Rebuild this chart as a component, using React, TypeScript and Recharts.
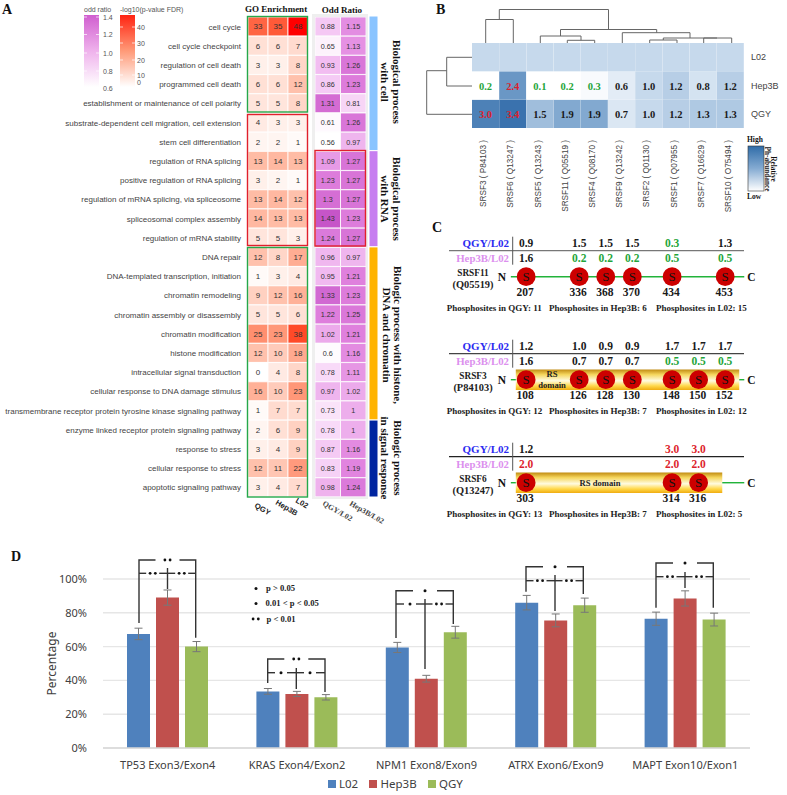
import {
  Bar,
  BarChart,
  CartesianGrid,
  Cell,
  ErrorBar,
  LabelList,
  Legend,
  ReferenceArea,
  ReferenceLine,
  Scatter,
  ScatterChart,
  XAxis,
  YAxis,
} from "recharts";

const SANS = "Liberation Sans, Arial, sans-serif";
const SERIF = "Liberation Serif, Times New Roman, serif";
const NOTO = "Noto Sans, sans-serif";

// panel A
const goTerms = [
  "cell cycle",
  "cell cycle checkpoint",
  "regulation of cell death",
  "programmed cell death",
  "establishment or maintenance of cell polarity",
  "substrate-dependent cell migration, cell extension",
  "stem cell differentiation",
  "regulation of RNA splicing",
  "positive regulation of RNA splicing",
  "regulation of mRNA splicing, via spliceosome",
  "spliceosomal complex assembly",
  "regulation of mRNA stability",
  "DNA repair",
  "DNA-templated transcription, initiation",
  "chromatin remodeling",
  "chromatin assembly or disassembly",
  "chromatin modification",
  "histone modification",
  "intracellular signal transduction",
  "cellular response to DNA damage stimulus",
  "transmembrane receptor protein tyrosine kinase signaling pathway",
  "enzyme linked receptor protein signaling pathway",
  "response to stress",
  "cellular response to stress",
  "apoptotic signaling pathway",
];
const goQgy = [33, 6, 3, 6, 5, 4, 2, 13, 3, 13, 14, 5, 12, 1, 9, 5, 25, 12, 0, 16, 1, 2, 3, 12, 3];
const goHep = [35, 6, 3, 6, 5, 3, 2, 14, 2, 14, 13, 5, 8, 3, 12, 5, 23, 10, 4, 10, 7, 6, 4, 11, 4];
const goL02 = [48, 7, 8, 12, 8, 3, 1, 13, 1, 12, 13, 3, 17, 4, 16, 6, 38, 18, 8, 23, 7, 9, 9, 22, 7];
const oddQgy = [0.88, 0.65, 0.93, 0.86, 1.31, 0.61, 0.56, 1.09, 1.23, 1.3, 1.43, 1.24, 0.96, 0.95, 1.33, 1.22, 1.02, 0.6, 0.78, 0.97, 0.73, 0.78, 0.87, 0.83, 0.98];
const oddHep = [1.15, 1.13, 1.26, 1.23, 0.81, 1.26, 0.97, 1.27, 1.27, 1.27, 1.23, 1.27, 0.97, 1.21, 1.23, 1.25, 1.21, 1.16, 1.11, 1.02, 1, 1, 1.16, 1.19, 1.24];
const groupSpans = { cell: 7, rna: 5, histone: 9, signal: 4 };

// panel B
const proteins = [
  "SRSF3 ( P84103 )",
  "SRSF6 ( Q13247 )",
  "SRSF5 ( Q13243 )",
  "SRSF11 ( Q05519 )",
  "SRSF4 ( Q08170 )",
  "SRSF9 ( Q13242 )",
  "SRSF2 ( Q01130 )",
  "SRSF1 ( Q07955 )",
  "SRSF7 ( Q16629 )",
  "SRSF10 ( O75494 )",
];
const abundanceHep = [0.2, 2.4, 0.1, 0.2, 0.3, 0.6, 1.0, 1.2, 0.8, 1.2];
const abundanceQgy = [3.0, 3.4, 1.5, 1.9, 1.9, 0.7, 1.0, 1.2, 1.3, 1.3];
const abundanceL02 = [1, 1, 1, 1, 1, 1, 1, 1, 1, 1];
const rowNames = ["QGY", "Hep3B", "L02"];

// panel C, slot is the place on the schematic, not the residue
const srsf11Sites = [
  { slot: 0, row: 0, site: 207, qgy: 0.9, hep: 1.6 },
  { slot: 2, row: 0, site: 336, qgy: 1.5, hep: 0.2 },
  { slot: 3, row: 0, site: 368, qgy: 1.5, hep: 0.2 },
  { slot: 4, row: 0, site: 370, qgy: 1.5, hep: 0.2 },
  { slot: 5.5, row: 0, site: 434, qgy: 0.3, hep: 0.5 },
  { slot: 7.5, row: 0, site: 453, qgy: 1.3, hep: 0.5 },
];
const srsf3Sites = [
  { slot: 0, row: 1, site: 108, qgy: 1.2, hep: 1.6 },
  { slot: 2, row: 1, site: 126, qgy: 1.0, hep: 0.7 },
  { slot: 3, row: 1, site: 128, qgy: 0.9, hep: 0.7 },
  { slot: 4, row: 1, site: 130, qgy: 0.9, hep: 0.7 },
  { slot: 5.5, row: 1, site: 148, qgy: 1.7, hep: 0.5 },
  { slot: 6.5, row: 1, site: 150, qgy: 1.7, hep: 0.5 },
  { slot: 7.5, row: 1, site: 152, qgy: 1.7, hep: 0.5 },
];
const srsf6Sites = [
  { slot: 0, row: 2, site: 303, qgy: 1.2, hep: 2.0 },
  { slot: 5.5, row: 2, site: 314, qgy: 3.0, hep: 2.0 },
  { slot: 6.5, row: 2, site: 316, qgy: 3.0, hep: 2.0 },
];
const backbone = [
  { row: 0, from: -0.577, to: 8.22 },
  { row: 1, from: -0.577, to: -0.39 },
  { row: 1, from: 8.03, to: 8.22 },
  { row: 2, from: -0.577, to: -0.39 },
  { row: 2, from: 7.39, to: 8.22 },
];
const phosphoText = [
  ["Phosphosites in QGY: 11", "Phosphosites in Hep3B: 6", "Phosphosites in L02: 15"],
  ["Phosphosites in QGY: 12", "Phosphosites in Hep3B: 7", "Phosphosites in L02: 12"],
  ["Phosphosites in QGY: 13", "Phosphosites in Hep3B: 7", "Phosphosites in L02: 5"],
];
const proteinNames = [
  ["SRSF11", "(Q05519)"],
  ["SRSF3", "(P84103)"],
  ["SRSF6", "(Q13247)"],
];

// panel D
const exons = [
  "TP53 Exon3/Exon4",
  "KRAS Exon4/Exon2",
  "NPM1 Exon8/Exon9",
  "ATRX Exon6/Exon9",
  "MAPT Exon10/Exon1",
];
const pctL02 = [67.5, 33.5, 59.5, 86, 76.5];
const pctHep = [89, 32, 41, 75.5, 88.5];
const pctQgy = [60, 30, 68.5, 84.5, 76];
const errL02 = [3.4, 1.7, 3, 4.3, 3.9];
const errHep = [4.5, 1.5, 2, 3.8, 4.5];
const errQgy = [3, 1.6, 3.5, 4.2, 3.8];
const brackets = [
  { lx: 139, rx: 195.7, cx: 167.5, top: 560, mid: 573.3, lEnd: 623, rEnd: 637.7, cFrom: 568, cTo: 589, lm: 152.7, rm: 181.7, marks: [2, 2, 2] },
  { lx: 267.7, rx: 325, cx: 296.3, top: 659, mid: 672.7, lEnd: 683, rEnd: 692, cFrom: 668, cTo: 689, lm: 281, rm: 310, marks: [2, 1, 1] },
  { lx: 396, rx: 453.3, cx: 425, top: 590.7, mid: 604, lEnd: 638, rEnd: 624, cFrom: 599, cTo: 669, lm: 410, rm: 439, marks: [1, 1, 2] },
  { lx: 526, rx: 583.3, cx: 555, top: 566.7, mid: 580.7, lEnd: 591.7, rEnd: 594, cFrom: 575, cTo: 611, lm: 540, rm: 569, marks: [1, 2, 2] },
  { lx: 656, rx: 713.3, cx: 685, top: 563, mid: 576.7, lEnd: 607.7, rEnd: 607.7, cFrom: 572, cTo: 588, lm: 670, rm: 699, marks: [1, 2, 2] },
];

const goRows = goTerms.map((term, i) => ({
  term,
  a: 1,
  b: 1,
  c: 1,
  qgy: goQgy[i],
  hep: goHep[i],
  l02: goL02[i],
  oddQ: oddQgy[i],
  oddH: oddHep[i],
}));
const abundanceRows = proteins.map((name, i) => ({
  name,
  q: 1,
  h: 1,
  l: 1,
  qgy: abundanceQgy[i],
  hep: abundanceHep[i],
  l02: abundanceL02[i],
}));
const exonRows = exons.map((name, i) => ({
  name,
  L02: pctL02[i],
  Hep3B: pctHep[i],
  QGY: pctQgy[i],
  l02Err: errL02[i],
  hepErr: errHep[i],
  qgyErr: errQgy[i],
}));
const legendItems = [
  { name: "L02", color: "#4f81bd" },
  { name: "Hep3B", color: "#c0504d" },
  { name: "QGY", color: "#9bbb59" },
];

function mix(stops: [number, number[]][], v: number) {
  let i = 0;
  while (i < stops.length - 2 && v > stops[i + 1][0]) i++;
  const [a, ca] = stops[i];
  const [b, cb] = stops[i + 1];
  const t = Math.max(0, Math.min(1, (v - a) / (b - a)));
  const c = ca.map((x, k) => Math.round(x + (cb[k] - x) * t));
  return `rgb(${c[0]},${c[1]},${c[2]})`;
}
const goColor = (v: number) =>
  mix(
    [
      [0, [255, 255, 255]],
      [13, [255, 188, 165]],
      [25, [255, 143, 111]],
      [38, [255, 74, 40]],
      [48, [255, 0, 0]],
    ],
    v,
  );
const oddColor = (v: number) =>
  mix(
    [
      [0.58, [255, 255, 255]],
      [0.9, [244, 196, 243]],
      [1.2, [224, 130, 222]],
      [1.43, [198, 85, 200]],
    ],
    v,
  );
const blueColor = (v: number) =>
  mix(
    [
      [0.2, [255, 255, 255]],
      [1.0, [198, 217, 236]],
      [1.9, [130, 169, 208]],
      [3.4, [58, 114, 174]],
    ],
    v,
  );
const ratioColor = (v: number) => (v >= 2 ? "#dd1f2d" : v <= 0.5 ? "#1fa53a" : "#1a1a1a");

const cellLabel =
  (size: number) =>
  ({ x, y, width, height, value }: any) => (
    <text x={x + width / 2} y={y + height / 2 + 2.9} textAnchor="middle" fontSize={size} fontFamily={SANS} fill="#333">
      {value}
    </text>
  );

const abundanceLabel = ({ x, y, width, height, value }: any) => (
  <text
    x={x + width / 2}
    y={y + height / 2 + 4}
    textAnchor="middle"
    fontSize={10.5}
    fontFamily={SERIF}
    fontWeight={600}
    fill={ratioColor(value)}
  >
    {value.toFixed(1)}
  </text>
);

const termTick = ({ y, payload }: any) => (
  <text x={241} y={y + 3} textAnchor="end" fontSize={8} fontFamily={SANS} fill="#444">
    {payload.value}
  </text>
);

// y is fixed so the labels end just under the heatmap, as in the figure
const proteinTick = ({ x, payload }: any) => (
  <text
    transform={`rotate(-90 ${x + 0.5} 97)`}
    x={x + 0.5}
    y={97}
    textAnchor="end"
    fontSize={8.2}
    fontFamily={SANS}
    fill="#444"
  >
    {payload.value}
  </text>
);

const SiteMark = ({ cx, cy, payload }: any) => (
  <g fontFamily={SERIF} textAnchor="middle">
    <text x={cx} y={cy - 29.5} fontSize={11.5} fontWeight={600} fill={ratioColor(payload.qgy)}>
      {payload.qgy.toFixed(1)}
    </text>
    <text x={cx} y={cy - 14.8} fontSize={11.5} fontWeight={600} fill={ratioColor(payload.hep)}>
      {payload.hep.toFixed(1)}
    </text>
    <circle cx={cx} cy={cy} r={9.4} fill="#cc0000" />
    <text x={cx} y={cy + 4.6} fontSize={13} fill="#111">
      S
    </text>
    <text x={cx - 1} y={cy + 19.3} fontSize={11.5} fontWeight={600} fill="#1a1a1a">
      {payload.site}
    </text>
  </g>
);

const ExonLegend = () => (
  <div style={{ display: "flex", alignItems: "center", fontFamily: NOTO, fontSize: 11.5, color: "#404040", lineHeight: "22px" }}>
    {legendItems.map((it) => (
      <span key={it.name} style={{ display: "flex", alignItems: "center", marginRight: 11 }}>
        <span style={{ width: 8, height: 8, background: it.color, marginRight: 3.3 }} />
        {it.name}
      </span>
    ))}
  </div>
);

function Txt({ x, y, s = 10, f = SERIF, w = 400, c = "#111", a = "start", r, children }: any) {
  return (
    <text
      x={x}
      y={y}
      fontSize={s}
      fontFamily={f}
      fontWeight={w}
      fill={c}
      textAnchor={a}
      transform={r ? `rotate(${r} ${x} ${y})` : undefined}
    >
      {children}
    </text>
  );
}

function Dots({ x, y, n }: { x: number; y: number; n: number }) {
  return (
    <g fill="#111">
      {n === 1 ? (
        <circle cx={x} cy={y} r={1.5} />
      ) : (
        <>
          <circle cx={x - 2.6} cy={y} r={1.4} />
          <circle cx={x + 2.6} cy={y} r={1.4} />
        </>
      )}
    </g>
  );
}

function Overlay() {
  const rows = [276.7, 379.7, 482.7];
  return (
    <svg width={787} height={795} style={{ position: "absolute", left: 0, top: 0, pointerEvents: "none" }}>
      <defs>
        <linearGradient id="oddBar" x1="0" y1="0" x2="0" y2="1">
          <stop offset="0" stopColor="#d05ecf" />
          <stop offset="0.5" stopColor="#efb2ec" />
          <stop offset="1" stopColor="#ffffff" />
        </linearGradient>
        <linearGradient id="redBar" x1="0" y1="0" x2="0" y2="1">
          <stop offset="0" stopColor="#ff2412" />
          <stop offset="0.5" stopColor="#ff9a78" />
          <stop offset="1" stopColor="#ffffff" />
        </linearGradient>
        <linearGradient id="blueBar" x1="0" y1="0" x2="0" y2="1">
          <stop offset="0" stopColor="#2f6ca8" />
          <stop offset="0.5" stopColor="#85abd2" />
          <stop offset="1" stopColor="#ffffff" />
        </linearGradient>
      </defs>

      {/* panel letters */}
      <Txt x={2} y={14} s={14} w={700}>A</Txt>
      <Txt x={436} y={14} s={14} w={700}>B</Txt>
      <Txt x={432} y={232} s={14} w={700}>C</Txt>
      <Txt x={11} y={561} s={14} w={700}>D</Txt>

      {/* A legends */}
      <Txt x={84} y={12} s={7} f={SANS} c="#555">odd ratio</Txt>
      <Txt x={120} y={12} s={7} f={SANS} c="#555">-log10(p-value FDR)</Txt>
      <rect x={84} y={15} width={15} height={72} fill="url(#oddBar)" />
      <rect x={120} y={15} width={15} height={72} fill="url(#redBar)" />
      {[17, 34.5, 53, 71].map((y) => (
        <g key={y} stroke="#fff" strokeWidth={0.7}>
          <line x1={84} x2={87} y1={y} y2={y} />
          <line x1={96} x2={99} y1={y} y2={y} />
        </g>
      ))}
      {[27, 43, 60, 75].map((y) => (
        <g key={y} stroke="#fff" strokeWidth={0.7}>
          <line x1={120} x2={123} y1={y} y2={y} />
          <line x1={132} x2={135} y1={y} y2={y} />
        </g>
      ))}
      {[
        ["1.4", 19.5],
        ["1.2", 37],
        ["1.0", 55.5],
        ["0.8", 73.5],
        ["0.6", 91],
      ].map(([t, y]) => (
        <Txt key={t} x={103} y={y} s={7} f={SANS} c="#555">{t}</Txt>
      ))}
      {[
        ["40", 29.5],
        ["30", 45.5],
        ["20", 62.5],
        ["10", 77.5],
        ["0", 85],
      ].map(([t, y]) => (
        <Txt key={t} x={137} y={y} s={7} f={SANS} c="#555">{t}</Txt>
      ))}

      <Txt x={276} y={12} s={9} w={700} a="middle">GO Enrichment</Txt>
      <Txt x={342} y={13} s={9} w={700} a="middle">Odd Ratio</Txt>

      {/* A selection boxes */}
      <g fill="none" strokeWidth={1.4}>
        <rect x={247.5} y={16.5} width={60} height={95.5} stroke="#25a84a" />
        <rect x={247.5} y={114.5} width={60} height={131} stroke="#e0202c" />
        <rect x={247.5} y={247.5} width={60} height={249.5} stroke="#25a84a" />
        <rect x={315} y={150.5} width={50.5} height={95.5} stroke="#e0202c" />
      </g>

      <Txt x={254} y={507} s={7.6} f={SANS} w={700} r={30} c="#222">QGY</Txt>
      <Txt x={275} y={504} s={7.6} f={SANS} w={700} r={30} c="#222">Hep3B</Txt>
      <Txt x={295} y={502} s={7.6} f={SANS} w={700} r={30} c="#222">L02</Txt>
      <Txt x={322} y={505} s={7.8} w={700} r={30} c="#444">QGY/L02</Txt>
      <Txt x={349} y={505} s={7.8} w={700} r={30} c="#444">Hep3B/L02</Txt>

      <Txt x={393} y={82} s={11} w={700} a="middle" r={90}>Biological process</Txt>
      <Txt x={381} y={82} s={11} w={700} a="middle" r={90}>with cell</Txt>
      <Txt x={393} y={199} s={11} w={700} a="middle" r={90}>Biological process</Txt>
      <Txt x={381} y={199} s={11} w={700} a="middle" r={90}>with RNA</Txt>
      <Txt x={394} y={335} s={11} w={700} a="middle" r={90}>Biologic process with  histone,</Txt>
      <Txt x={383} y={335} s={11} w={700} a="middle" r={90}>DNA and chromatin</Txt>
      <Txt x={394} y={458} s={11} w={700} a="middle" r={90}>Biologic process</Txt>
      <Txt x={381} y={458} s={11} w={700} a="middle" r={90}>in signal response</Txt>

      {/* B dendrograms */}
      <g fill="none" stroke="#666" strokeWidth={1}>
        <path d="M485.7 43V19.5H513.3V43" />
        <path d="M499.3 19.5V9.5H608.5V29.5" />
        <path d="M560.5 36V29.5H656.7V32.7" />
        <path d="M540.3 43V36H581V40.3" />
        <path d="M567.3 43V40.3H594.7V43" />
        <path d="M622.3 43V32.7H690V38" />
        <path d="M663.3 40V38H717" />
        <path d="M703.7 43V38H731.7V43" />
        <path d="M649.7 43V40H677V43" />
        <path d="M472 57.3H446.7V86H472" />
        <path d="M446.7 70.7H426.7V114.3H472" />
      </g>
      <rect x={748} y={146} width={16} height={45} fill="url(#blueBar)" stroke="#333" strokeWidth={0.6} />
      <Txt x={747} y={142} s={7.5} w={700}>High</Txt>
      <Txt x={747} y={199} s={7.5} w={700}>Low</Txt>
      <Txt x={771} y={169} s={7.3} w={700} a="middle" r={90}>Relative</Txt>
      <Txt x={764.5} y={169} s={7.3} w={700} a="middle" r={90}>Ph-abundance</Txt>

      {/* C text */}
      {rows.map((cy, i) => (
        <g key={cy}>
          <line x1={449} x2={744} y1={cy - 26} y2={cy - 26} stroke={["#777", "#444", "#222"][i]} strokeWidth={1.2} />
          <line x1={512.7} x2={512.7} y1={cy - 40} y2={cy - 12} stroke="#555" strokeWidth={1} />
          <Txt x={509} y={cy - 29.5} s={11} w={700} a="end" c="#2b2bf0">QGY/L02</Txt>
          <Txt x={509} y={cy - 14.8} s={10.8} w={700} a="end" c="#dc90ee">Hep3B/L02</Txt>
          <Txt x={473} y={cy - 1} s={9.3} w={700} a="middle" c="#222">{proteinNames[i][0]}</Txt>
          <Txt x={473} y={cy + 11} s={10.4} w={700} a="middle" c="#222">{proteinNames[i][1]}</Txt>
          <Txt x={502} y={cy + 4} s={11.5} w={700} a="middle">N</Txt>
          <Txt x={751.5} y={cy + 4} s={11.5} w={700} a="middle">C</Txt>
          <Txt x={446.7} y={cy + 34.5} s={9} w={700} c="#222">{phosphoText[i][0]}</Txt>
          <Txt x={549} y={cy + 34.5} s={9} w={700} c="#222">{phosphoText[i][1]}</Txt>
          <Txt x={656} y={cy + 34.5} s={9} w={700} c="#222">{phosphoText[i][2]}</Txt>
        </g>
      ))}
      <Txt x={552} y={376.5} s={8.6} w={700} a="middle" c="#222">RS</Txt>
      <Txt x={552} y={388} s={8.6} w={700} a="middle" c="#222">domain</Txt>
      <Txt x={600} y={485.7} s={8.6} w={700} a="middle" c="#222">RS domain</Txt>

      {/* D significance */}
      <g fill="none" stroke="#333" strokeWidth={1.4}>
        {brackets.map((b) => {
          const gapL = b.marks[1] === 2 ? 6.5 : 6;
          const gapR = b.marks[2] === 2 ? 6.5 : 6;
          return (
            <g key={b.lx}>
              <path d={`M${b.lx} ${b.lEnd}V${b.top}H${b.cx - 12}`} />
              <path d={`M${b.cx + 12} ${b.top}H${b.rx}V${b.rEnd}`} />
              <path d={`M${b.lx} ${b.mid}H${b.lm - gapL}`} />
              <path d={`M${b.lm + gapL} ${b.mid}H${b.rm - gapR}`} />
              <path d={`M${b.rm + gapR} ${b.mid}H${b.rx}`} />
              <path d={`M${b.cx} ${b.cFrom}V${b.cTo}`} />
            </g>
          );
        })}
      </g>
      {brackets.map((b) => (
        <g key={b.cx}>
          <Dots x={b.cx} y={b.top} n={b.marks[0]} />
          <Dots x={b.lm} y={b.mid} n={b.marks[1]} />
          <Dots x={b.rm} y={b.mid} n={b.marks[2]} />
        </g>
      ))}
      <Dots x={256} y={588.5} n={1} />
      <Dots x={256} y={603.5} n={1} />
      <Dots x={255.7} y={619} n={2} />
      <Txt x={266} y={591} s={8.6} w={700} c="#222">p &gt; 0.05</Txt>
      <Txt x={265.5} y={606} s={8.6} w={700} c="#222">0.01 &lt; p &lt; 0.05</Txt>
      <Txt x={266.5} y={621.5} s={8.6} w={700} c="#222">p &lt; 0.01</Txt>
    </svg>
  );
}

export default function App() {
  return (
    <div style={{ position: "absolute", left: 0, top: 0, width: 787, height: 795, background: "#fff", overflow: "hidden" }}>
      <div style={{ position: "absolute", left: 312, top: 14, width: 56, height: 485, background: "#efefef" }} />

      {/* GO enrichment */}
      <div style={{ position: "absolute", left: 0, top: 17 }}>
        <BarChart width={308} height={480} data={goRows} layout="vertical" barCategoryGap={0} margin={{ top: 0, right: 0, bottom: 0, left: 0 }}>
          <XAxis type="number" hide domain={[0, 3]} />
          <YAxis type="category" dataKey="term" width={248} interval={0} axisLine={false} tickLine={false} tick={termTick} />
          {(["qgy", "hep", "l02"] as const).map((k, n) => (
            <Bar key={k} dataKey={["a", "b", "c"][n]} stackId="go" stroke="#fff" strokeWidth={0.8} isAnimationActive={false}>
              {goRows.map((r) => (
                <Cell key={r.term} fill={goColor(r[k])} />
              ))}
              <LabelList dataKey={k} content={cellLabel(8)} />
            </Bar>
          ))}
        </BarChart>
      </div>

      {/* odd ratio */}
      <div style={{ position: "absolute", left: 315, top: 17 }}>
        <BarChart width={51} height={480} data={goRows} layout="vertical" barCategoryGap={0} margin={{ top: 0, right: 0, bottom: 0, left: 0 }}>
          <XAxis type="number" hide domain={[0, 2]} />
          <YAxis type="category" dataKey="term" hide />
          {(["oddQ", "oddH"] as const).map((k, n) => (
            <Bar key={k} dataKey={["a", "b"][n]} stackId="odd" stroke="#fff" strokeWidth={0.8} isAnimationActive={false}>
              {goRows.map((r) => (
                <Cell key={r.term} fill={oddColor(r[k])} />
              ))}
              <LabelList dataKey={k} content={cellLabel(7.2)} />
            </Bar>
          ))}
        </BarChart>
      </div>

      {/* process groups */}
      <div style={{ position: "absolute", left: 369, top: 16 }}>
        <BarChart width={9} height={481} data={[{ name: "groups", ...groupSpans }]} barCategoryGap={0} margin={{ top: 0, right: 0, bottom: 0, left: 0 }}>
          <XAxis dataKey="name" hide />
          <YAxis type="number" hide reversed domain={[0, 25]} />
          <Bar dataKey="cell" stackId="g" fill="#8ac4ff" stroke="#fff" isAnimationActive={false} />
          <Bar dataKey="rna" stackId="g" fill="#c77ef0" stroke="#fff" isAnimationActive={false} />
          <Bar dataKey="histone" stackId="g" fill="#ffb300" stroke="#fff" isAnimationActive={false} />
          <Bar dataKey="signal" stackId="g" fill="#0024a0" stroke="#fff" isAnimationActive={false} />
        </BarChart>
      </div>

      {/* B heatmap */}
      <div style={{ position: "absolute", left: 472, top: 43 }}>
        <BarChart width={315} height={185} data={abundanceRows} barCategoryGap={0} margin={{ top: 0, right: 0, bottom: 0, left: 0 }}>
          <XAxis dataKey="name" interval={0} height={100} axisLine={false} tickLine={false} tick={proteinTick} />
          <YAxis
            type="number"
            orientation="right"
            domain={[0, 3]}
            ticks={[0.5, 1.5, 2.5]}
            tickFormatter={(v: number) => rowNames[Math.floor(v)]}
            width={43}
            axisLine={false}
            tickLine={false}
            tickMargin={1}
            tick={{ fontSize: 9, fill: "#444", fontFamily: SANS }}
          />
          <Bar dataKey="q" stackId="ab" isAnimationActive={false}>
            {abundanceRows.map((r) => (
              <Cell key={r.name} fill={blueColor(r.qgy)} />
            ))}
            <LabelList dataKey="qgy" content={abundanceLabel} />
          </Bar>
          <Bar dataKey="h" stackId="ab" isAnimationActive={false}>
            {abundanceRows.map((r) => (
              <Cell key={r.name} fill={blueColor(r.hep)} />
            ))}
            <LabelList dataKey="hep" content={abundanceLabel} />
          </Bar>
          <Bar dataKey="l" stackId="ab" isAnimationActive={false}>
            {abundanceRows.map((r) => (
              <Cell key={r.name} fill={blueColor(r.l02)} />
            ))}
          </Bar>
        </BarChart>
      </div>

      {/* C schematics */}
      <div style={{ position: "absolute", left: 420, top: 210 }}>
        <ScatterChart width={367} height={320} margin={{ top: 0, right: 0, bottom: 0, left: 0 }}>
          <defs>
            <linearGradient id="gold" x1="0" y1="0" x2="0" y2="1">
              <stop offset="0" stopColor="#c08a10" />
              <stop offset="0.25" stopColor="#f5d65e" />
              <stop offset="0.55" stopColor="#fffbe0" />
              <stop offset="0.8" stopColor="#ffd84a" />
              <stop offset="1" stopColor="#f0ac10" />
            </linearGradient>
          </defs>
          <XAxis type="number" dataKey="slot" hide domain={[-4, 9.83]} />
          <YAxis type="number" dataKey="row" hide reversed domain={[-0.6476, 2.459]} />
          {backbone.map((b) => (
            <ReferenceLine
              key={`${b.row}-${b.from}`}
              segment={[
                { x: b.from, y: b.row },
                { x: b.to, y: b.row },
              ]}
              stroke="#22b33a"
              strokeWidth={1.4}
            />
          ))}
          <ReferenceArea x1={-0.39} x2={8.03} y1={0.9} y2={1.1} fill="url(#gold)" fillOpacity={1} stroke="none" />
          <ReferenceArea x1={-0.39} x2={7.39} y1={1.9} y2={2.1} fill="url(#gold)" fillOpacity={1} stroke="none" />
          <Scatter data={srsf11Sites} shape={SiteMark} isAnimationActive={false} />
          <Scatter data={srsf3Sites} shape={SiteMark} isAnimationActive={false} />
          <Scatter data={srsf6Sites} shape={SiteMark} isAnimationActive={false} />
        </ScatterChart>
      </div>

      {/* D bars */}
      <div style={{ position: "absolute", left: 0, top: 540 }}>
        <BarChart width={787} height={255} data={exonRows} barSize={23} barGap={6} margin={{ top: 39, right: 37, bottom: 0, left: 0 }}>
          <CartesianGrid horizontal vertical={false} stroke="#e6e6e6" strokeWidth={1.4} />
          <XAxis
            dataKey="name"
            interval={0}
            height={25}
            axisLine={{ stroke: "#d9d9d9", strokeWidth: 1.4 }}
            tickLine={false}
            tickMargin={7}
            tick={{ fontSize: 11, fill: "#404040", fontFamily: NOTO }}
          />
          <YAxis
            type="number"
            domain={[0, 100]}
            ticks={[0, 20, 40, 60, 80, 100]}
            tickFormatter={(v: number) => `${v}%`}
            width={103}
            axisLine={false}
            tickLine={false}
            tickMargin={10}
            tick={{ fontSize: 11, fill: "#404040", fontFamily: NOTO }}
            label={{ value: "Percentage", angle: -90, position: "insideLeft", offset: 52, style: { fontSize: 12, fill: "#404040", fontFamily: NOTO, textAnchor: "middle" } }}
          />
          <Legend verticalAlign="bottom" height={22} content={<ExonLegend />} wrapperStyle={{ left: 327.7, width: 160 }} />
          <Bar dataKey="L02" fill="#4f81bd" isAnimationActive={false}>
            <ErrorBar dataKey="l02Err" width={4} stroke="#777" strokeWidth={1} />
          </Bar>
          <Bar dataKey="Hep3B" fill="#c0504d" isAnimationActive={false}>
            <ErrorBar dataKey="hepErr" width={4} stroke="#777" strokeWidth={1} />
          </Bar>
          <Bar dataKey="QGY" fill="#9bbb59" isAnimationActive={false}>
            <ErrorBar dataKey="qgyErr" width={4} stroke="#777" strokeWidth={1} />
          </Bar>
        </BarChart>
      </div>

      <Overlay />
    </div>
  );
}
